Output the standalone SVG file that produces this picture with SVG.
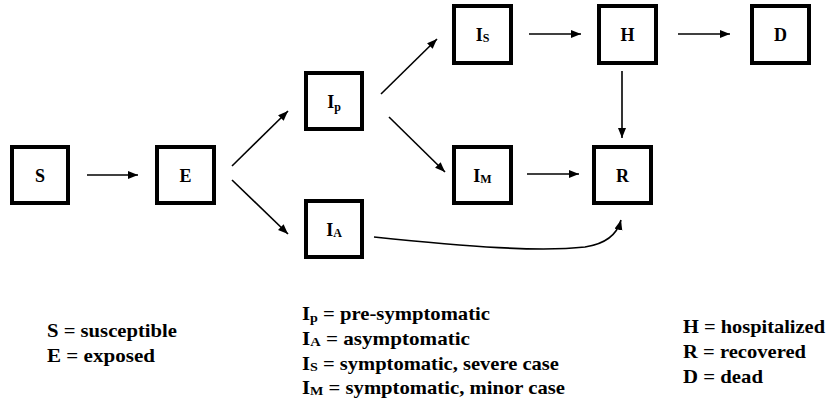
<svg xmlns="http://www.w3.org/2000/svg" width="829" height="405" viewBox="0 0 829 405">
<style>
.box{fill:#fff;stroke:#000;stroke-width:4}
.lbl{font-weight:bold;font-size:18px;fill:#000;text-anchor:middle}
.sub{font-size:12px}
.conn{fill:none;stroke:#000;stroke-width:1.6}
.leg{font-weight:bold;font-size:19px;fill:#000}
.leg .sub{font-size:13px}
</style>
<defs>
<marker id="ah" markerUnits="userSpaceOnUse" markerWidth="11" markerHeight="9" refX="10" refY="4" orient="auto">
<path d="M0,0 L10,4 L0,8 z" fill="#000"/>
</marker>
</defs>
<rect width="829" height="405" fill="#fff"/>
<g id="connectors">
<line class="conn" x1="87" y1="175" x2="138" y2="175" marker-end="url(#ah)"/>
<line class="conn" x1="232" y1="166" x2="288" y2="111" marker-end="url(#ah)"/>
<line class="conn" x1="232" y1="180" x2="288" y2="234" marker-end="url(#ah)"/>
<line class="conn" x1="381" y1="94" x2="437" y2="39" marker-end="url(#ah)"/>
<line class="conn" x1="389" y1="117" x2="445" y2="172" marker-end="url(#ah)"/>
<line class="conn" x1="529" y1="34" x2="581" y2="34" marker-end="url(#ah)"/>
<line class="conn" x1="678" y1="34" x2="730" y2="34" marker-end="url(#ah)"/>
<line class="conn" x1="622" y1="71" x2="622" y2="138" marker-end="url(#ah)"/>
<line class="conn" x1="527" y1="174" x2="579" y2="174" marker-end="url(#ah)"/>
<path class="conn" d="M374,237 C470,247 540,252 585,247 C605,244 617,235 621,220" marker-end="url(#ah)"/>
</g>
<g font-family="'Liberation Serif', 'Times New Roman', serif">
<g id="node-S"><rect class="box" x="12" y="147" width="56" height="56"/><text class="lbl" x="40" y="182">S</text></g>
<g id="node-E"><rect class="box" x="157" y="147" width="57" height="56"/><text class="lbl" x="185.5" y="182">E</text></g>
<g id="node-Ip"><rect class="box" x="306" y="73" width="56" height="56"/><text class="lbl" x="334" y="108">I<tspan class="sub" dy="3">p</tspan></text></g>
<g id="node-IA"><rect class="box" x="306" y="201" width="56" height="56"/><text class="lbl" x="334" y="236">I<tspan class="sub" dy="1">A</tspan></text></g>
<g id="node-IS"><rect class="box" x="454" y="6" width="57" height="57"/><text class="lbl" x="482.5" y="41">I<tspan class="sub" dy="1">S</tspan></text></g>
<g id="node-H"><rect class="box" x="599" y="6" width="57" height="57"/><text class="lbl" x="627.5" y="41">H</text></g>
<g id="node-D"><rect class="box" x="752" y="6" width="57" height="57"/><text class="lbl" x="780.5" y="41">D</text></g>
<g id="node-IM"><rect class="box" x="454" y="147" width="57" height="56"/><text class="lbl" x="482.5" y="182">I<tspan class="sub" dy="1">M</tspan></text></g>
<g id="node-R"><rect class="box" x="594" y="147" width="57" height="56"/><text class="lbl" x="622.5" y="182">R</text></g>
<g id="legend">
<text class="leg" x="47" y="337" textLength="130" lengthAdjust="spacingAndGlyphs">S = susceptible</text>
<text class="leg" x="47" y="362" textLength="108" lengthAdjust="spacingAndGlyphs">E = exposed</text>
<text class="leg" x="302" y="320" textLength="188" lengthAdjust="spacingAndGlyphs">I<tspan class="sub" dy="2">p</tspan><tspan dy="-2"> = pre-symptomatic</tspan></text>
<text class="leg" x="302" y="345" textLength="168" lengthAdjust="spacingAndGlyphs">I<tspan class="sub" dy="1">A</tspan><tspan dy="-1"> = asymptomatic</tspan></text>
<text class="leg" x="302" y="370" textLength="257" lengthAdjust="spacingAndGlyphs">I<tspan class="sub" dy="1">S</tspan><tspan dy="-1"> = symptomatic, severe case</tspan></text>
<text class="leg" x="302" y="394" textLength="263" lengthAdjust="spacingAndGlyphs">I<tspan class="sub" dy="1">M</tspan><tspan dy="-1"> = symptomatic, minor case</tspan></text>
<text class="leg" x="683" y="333" textLength="142" lengthAdjust="spacingAndGlyphs">H = hospitalized</text>
<text class="leg" x="683" y="358" textLength="123" lengthAdjust="spacingAndGlyphs">R = recovered</text>
<text class="leg" x="683" y="383" textLength="80" lengthAdjust="spacingAndGlyphs">D = dead</text>
</g>
</g>
</svg>
